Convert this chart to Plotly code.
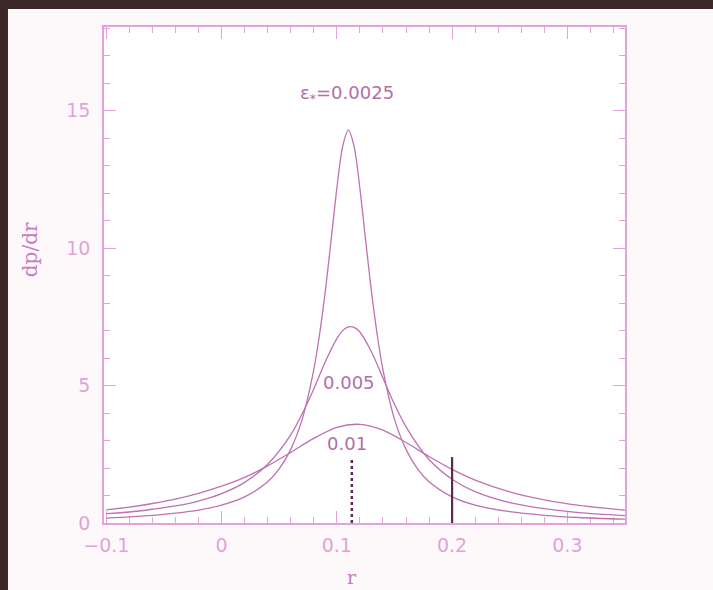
import plotly.graph_objects as go

# r-grid and curve values
r_narrow = [-0.10, -0.08, -0.06, -0.04, -0.02, 0.00, 0.02, 0.04, 0.05, 0.06, 0.07, 0.08, 0.085, 0.09, 0.095,
            0.10, 0.105, 0.11, 0.115, 0.12, 0.125, 0.13, 0.135, 0.14, 0.15, 0.16, 0.17, 0.18, 0.20, 0.22,
            0.25, 0.28, 0.31, 0.35]
p_narrow = [0.18, 0.22, 0.28, 0.36, 0.47, 0.65, 0.95, 1.50, 1.97, 2.68, 3.78, 5.58, 6.86, 8.44, 10.28,
            12.18, 13.70, 14.30, 13.70, 12.18, 10.28, 8.44, 6.86, 5.58, 3.78, 2.68, 1.97, 1.50, 0.95, 0.65,
            0.41, 0.28, 0.20, 0.14]

r_mid = [-0.10, -0.08, -0.06, -0.04, -0.02, 0.00, 0.02, 0.04, 0.06, 0.07, 0.08, 0.09, 0.10, 0.105, 0.11,
         0.115, 0.12, 0.13, 0.14, 0.15, 0.16, 0.18, 0.20, 0.22, 0.25, 0.28, 0.31, 0.35]
p_mid = [0.34, 0.40, 0.50, 0.62, 0.80, 1.07, 1.48, 2.14, 3.21, 3.98, 4.88, 5.87, 6.71, 7.00, 7.14,
         7.12, 6.95, 6.23, 5.28, 4.32, 3.50, 2.31, 1.59, 1.14, 0.74, 0.52, 0.38, 0.27]

r_wide = [-0.10, -0.08, -0.06, -0.04, -0.02, 0.00, 0.02, 0.04, 0.06, 0.08, 0.10, 0.12, 0.14, 0.16,
          0.18, 0.20, 0.22, 0.25, 0.28, 0.31, 0.35]
p_wide = [0.48, 0.58, 0.71, 0.87, 1.08, 1.34, 1.66, 2.08, 2.57, 3.08, 3.48, 3.59, 3.38, 2.93,
          2.42, 1.95, 1.56, 1.13, 0.84, 0.64, 0.47]

curve_labels = ["ε<sub>*</sub>=0.0025", "0.005", "0.01"]
label_x = [0.109, 0.1105, 0.109]
label_y = [15.6, 5.13, 2.91]

x_ticks = [-0.1, 0, 0.1, 0.2, 0.3]
x_ticktext = ["\u22120.1", "0", "0.1", "0.2", "0.3"]
y_ticks = [0, 5, 10, 15]

dashed_r = 0.113
solid_r = 0.2
marker_height = 2.4

pink = "#e3a3da"
label_pink = "#dfa4d6"
curve_col = "#bd72b1"
dark = "#5e2a55"

fig = go.Figure()
for rx, py in [(r_narrow, p_narrow), (r_mid, p_mid), (r_wide, p_wide)]:
    fig.add_trace(go.Scatter(x=rx, y=py, mode="lines",
                             line=dict(color=curve_col, width=1.3, shape="spline", smoothing=0.8),
                             showlegend=False, hoverinfo="skip"))

fig.add_trace(go.Scatter(x=[dashed_r, dashed_r], y=[0, marker_height], mode="lines",
                         line=dict(color=dark, width=2.5, dash="dot"), showlegend=False,
                         cliponaxis=False, hoverinfo="skip"))
fig.add_trace(go.Scatter(x=[solid_r, solid_r], y=[0, marker_height], mode="lines",
                         line=dict(color=dark, width=2.2), showlegend=False,
                         cliponaxis=False, hoverinfo="skip"))

for t, xx, yy in zip(curve_labels, label_x, label_y):
    fig.add_annotation(x=xx, y=yy, text=t, showarrow=False,
                       font=dict(family="DejaVu Sans", size=18, color="#b070a8"))

# axis titles
fig.add_annotation(xref="paper", yref="paper", x=0.476, y=-0.109, xanchor="center", yanchor="middle",
                   text="r", showarrow=False,
                   font=dict(family="DejaVu Serif", size=19, color="#c77cbc"))
fig.add_annotation(xref="paper", yref="paper", x=-0.142, y=0.55, xanchor="center", yanchor="middle",
                   text="dp/dr", showarrow=False, textangle=-90,
                   font=dict(family="DejaVu Serif", size=20, color="#c77cbc"))

# slide border (dark frame at top and left)
fig.add_shape(type="rect", xref="paper", yref="paper", x0=-0.3, x1=1.3, y0=1.0363, y1=1.2,
              fillcolor="#3b2628", line=dict(width=0), layer="above")
fig.add_shape(type="rect", xref="paper", yref="paper", x0=-0.3, x1=-0.1843, y0=-0.3, y1=1.2,
              fillcolor="#3b2628", line=dict(width=0), layer="above")

axis_common = dict(showline=True, linecolor=pink, linewidth=1.5, mirror="allticks",
                   ticks="inside", tickcolor=pink, tickwidth=1.2, showgrid=False, zeroline=False,
                   layer="below traces",
                   tickfont=dict(family="DejaVu Sans", size=19, color=label_pink))

fig.update_xaxes(range=[-0.102, 0.35], tickvals=x_ticks, ticktext=x_ticktext, ticklen=12,
                 minor=dict(dtick=0.02, tick0=0, ticklen=6, ticks="inside", tickcolor=pink, showgrid=False),
                 ticklabelstandoff=4, **axis_common)
fig.update_yaxes(range=[0, 18.05], tickvals=y_ticks, ticklen=12,
                 minor=dict(dtick=1, tick0=0, ticklen=6, ticks="inside", tickcolor=pink, showgrid=False),
                 ticklabelstandoff=8, **axis_common)

fig.update_layout(width=713, height=590, margin=dict(l=104, r=88, t=27, b=67),
                  paper_bgcolor="#fdf9fb", plot_bgcolor="#ffffff", showlegend=False)

fig.write_html("out.html", config={"displayModeBar": False},
               post_script="document.body.style.margin='0';document.body.style.background='#fdf9fb';")
